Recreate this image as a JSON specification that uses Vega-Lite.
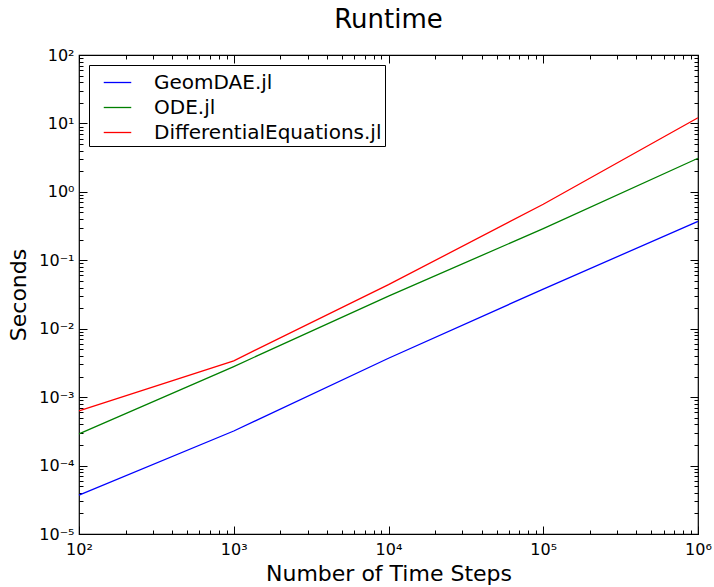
{
  "$schema": "https://vega.github.io/schema/vega-lite/v6.json",
  "autosize": "none",
  "width": 619,
  "height": 479,
  "padding": {"left": 79, "top": 55, "right": 16, "bottom": 53},
  "background": "white",
  "config": {
    "font": "DejaVu Sans",
    "view": {"stroke": "black", "strokeWidth": 1.2},
    "axis": {"grid": false, "domain": false, "tickColor": "black", "labelColor": "black", "titleColor": "black", "labelFont": "DejaVu Sans", "titleFont": "DejaVu Sans", "titleFontWeight": "normal"}
  },
  "title": {"text": "Runtime", "fontSize": 26, "font": "DejaVu Sans", "fontWeight": "normal", "color": "black", "offset": 14},
  "data": {
    "values": [
      {"series": "GeomDAE.jl", "steps": 100, "seconds": 0.000037},
      {"series": "GeomDAE.jl", "steps": 1000, "seconds": 0.00032},
      {"series": "GeomDAE.jl", "steps": 10000, "seconds": 0.0037},
      {"series": "GeomDAE.jl", "steps": 100000, "seconds": 0.038},
      {"series": "GeomDAE.jl", "steps": 1000000, "seconds": 0.37},
      {"series": "ODE.jl", "steps": 100, "seconds": 0.00029},
      {"series": "ODE.jl", "steps": 1000, "seconds": 0.0028},
      {"series": "ODE.jl", "steps": 10000, "seconds": 0.030},
      {"series": "ODE.jl", "steps": 100000, "seconds": 0.29},
      {"series": "ODE.jl", "steps": 1000000, "seconds": 3.1},
      {"series": "DifferentialEquations.jl", "steps": 100, "seconds": 0.00063},
      {"series": "DifferentialEquations.jl", "steps": 1000, "seconds": 0.0034},
      {"series": "DifferentialEquations.jl", "steps": 10000, "seconds": 0.044},
      {"series": "DifferentialEquations.jl", "steps": 100000, "seconds": 0.66},
      {"series": "DifferentialEquations.jl", "steps": 1000000, "seconds": 12.1}
    ]
  },
  "layer": [
    {
      "mark": {"type": "line", "strokeWidth": 1.3},
      "encoding": {
        "x": {
          "field": "steps", "type": "quantitative",
          "scale": {"type": "log", "domain": [100, 1000000], "nice": false},
          "axis": {
            "orient": "bottom",
            "title": "Number of Time Steps", "titleFontSize": 22, "titlePadding": 2,
            "values": [100,200,300,400,500,600,700,800,900,1000,2000,3000,4000,5000,6000,7000,8000,9000,10000,20000,30000,40000,50000,60000,70000,80000,90000,100000,200000,300000,400000,500000,600000,700000,800000,900000,1000000],
            "labelExpr": "abs(log(datum.value)/LN10 - round(log(datum.value)/LN10)) > 0.001 ? '' : '10' + replace(replace(replace(replace(replace(replace(replace(replace(toString(round(log(datum.value)/LN10)), '-', '⁻'), '0', '⁰'), '1', '¹'), '2', '²'), '3', '³'), '4', '⁴'), '5', '⁵'), '6', '⁶')",
            "labelFontSize": 16, "labelPadding": 15, "labelOverlap": false, "labelFlush": false, "labelBound": false,
            "tickSize": {"condition": {"test": "abs(log(datum.value)/LN10 - round(log(datum.value)/LN10)) < 0.001", "value": -8}, "value": -4}
          }
        },
        "y": {
          "field": "seconds", "type": "quantitative",
          "scale": {"type": "log", "domain": [0.00001, 100], "nice": false},
          "axis": {
            "orient": "left",
            "title": "Seconds", "titleFontSize": 22, "titlePadding": 8,
            "values": [0.00001,0.00002,0.00003,0.00004,0.00005,0.00006,0.00007,0.00008,0.00009,0.0001,0.0002,0.0003,0.0004,0.0005,0.0006,0.0007,0.0008,0.0009,0.001,0.002,0.003,0.004,0.005,0.006,0.007,0.008,0.009,0.01,0.02,0.03,0.04,0.05,0.06,0.07,0.08,0.09,0.1,0.2,0.3,0.4,0.5,0.6,0.7,0.8,0.9,1,2,3,4,5,6,7,8,9,10,20,30,40,50,60,70,80,90,100],
            "labelExpr": "abs(log(datum.value)/LN10 - round(log(datum.value)/LN10)) > 0.001 ? '' : '10' + replace(replace(replace(replace(replace(replace(replace(replace(toString(round(log(datum.value)/LN10)), '-', '⁻'), '0', '⁰'), '1', '¹'), '2', '²'), '3', '³'), '4', '⁴'), '5', '⁵'), '6', '⁶')",
            "labelFontSize": 16, "labelPadding": 13, "labelOverlap": false, "labelFlush": false, "labelBound": false,
            "tickSize": {"condition": {"test": "abs(log(datum.value)/LN10 - round(log(datum.value)/LN10)) < 0.001", "value": -8}, "value": -4}
          }
        },
        "color": {
          "field": "series", "type": "nominal",
          "scale": {"domain": ["GeomDAE.jl", "ODE.jl", "DifferentialEquations.jl"], "range": ["#0000ff", "#008000", "#ff0000"]},
          "legend": {
            "orient": "none", "legendX": 10, "legendY": 10, "title": null,
            "labelFontSize": 20, "labelFont": "DejaVu Sans", "labelColor": "black", "labelLimit": 400,
            "symbolType": "stroke", "symbolSize": 756, "symbolStrokeWidth": 1.3, "symbolOffset": 11,
            "labelOffset": 22, "padding": 3, "rowPadding": 0,
            "strokeColor": "black", "fillColor": "white", "cornerRadius": 0
          }
        }
      }
    },
    {
      "mark": {"type": "line", "opacity": 0},
      "encoding": {
        "x": {
          "field": "steps", "type": "quantitative",
          "axis": {
            "orient": "top", "title": null, "labels": false,
            "values": [100,200,300,400,500,600,700,800,900,1000,2000,3000,4000,5000,6000,7000,8000,9000,10000,20000,30000,40000,50000,60000,70000,80000,90000,100000,200000,300000,400000,500000,600000,700000,800000,900000,1000000],
            "tickSize": {"condition": {"test": "abs(log(datum.value)/LN10 - round(log(datum.value)/LN10)) < 0.001", "value": -8}, "value": -4}
          }
        },
        "y": {
          "field": "seconds", "type": "quantitative",
          "axis": {
            "orient": "right", "title": null, "labels": false,
            "values": [0.00001,0.00002,0.00003,0.00004,0.00005,0.00006,0.00007,0.00008,0.00009,0.0001,0.0002,0.0003,0.0004,0.0005,0.0006,0.0007,0.0008,0.0009,0.001,0.002,0.003,0.004,0.005,0.006,0.007,0.008,0.009,0.01,0.02,0.03,0.04,0.05,0.06,0.07,0.08,0.09,0.1,0.2,0.3,0.4,0.5,0.6,0.7,0.8,0.9,1,2,3,4,5,6,7,8,9,10,20,30,40,50,60,70,80,90,100],
            "tickSize": {"condition": {"test": "abs(log(datum.value)/LN10 - round(log(datum.value)/LN10)) < 0.001", "value": -8}, "value": -4}
          }
        },
        "detail": {"field": "series", "type": "nominal"}
      }
    }
  ],
  "resolve": {"axis": {"x": "independent", "y": "independent"}}
}
